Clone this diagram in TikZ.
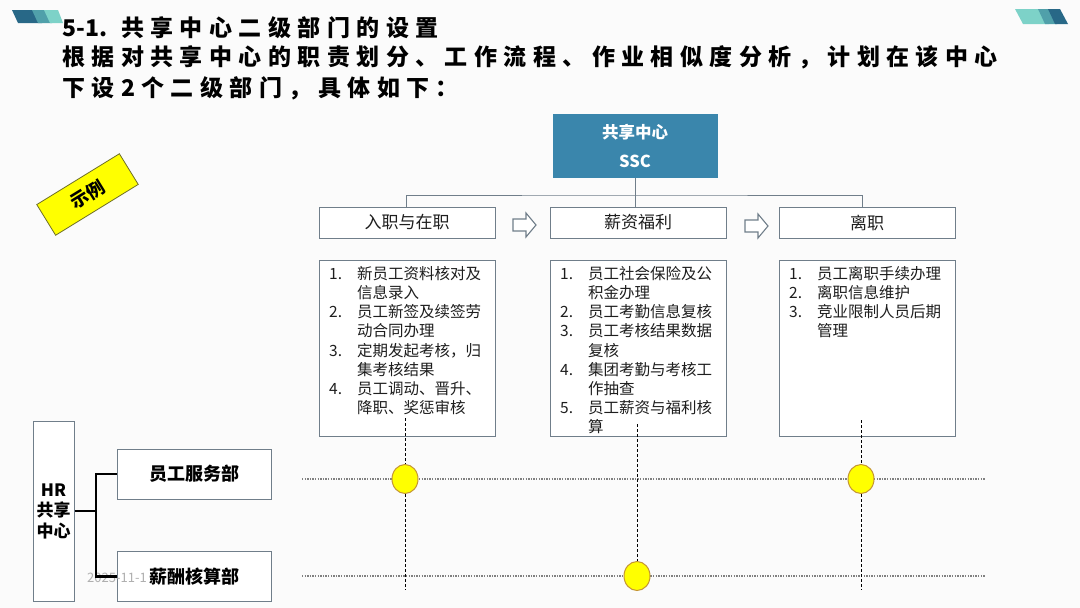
\documentclass[tikz,border=0pt]{standalone}
\usepackage{fontspec}
\setmainfont{Noto Sans CJK SC}
\newfontfamily\titlefont[LetterSpace=28]{Noto Sans CJK SC}
\newfontfamily\titleplain{Noto Sans CJK SC}
\usetikzlibrary{shapes.geometric}
\definecolor{bgc}{RGB}{251,251,251}
\definecolor{boxgray}{RGB}{112,126,138}
\definecolor{sscblue}{RGB}{58,134,172}
\definecolor{txt}{RGB}{30,30,30}
\definecolor{ylw}{RGB}{255,255,0}
\definecolor{ylwborder}{RGB}{196,148,52}
\definecolor{darkteal}{RGB}{40,104,135}
\definecolor{midteal}{RGB}{80,160,170}
\definecolor{lightteal}{RGB}{125,210,200}
\newcommand{\lsitem}[2]{\makebox[28pt][l]{#1}#2}
\newcommand{\lscont}[1]{\hspace*{28pt}#1}
\begin{document}
\begin{tikzpicture}[x=1pt,y=-1pt,
  catbox/.style={draw=boxgray, fill=white, line width=1pt, minimum width=176pt, minimum height=31pt, inner sep=0pt, text=txt, font=\fontsize{17}{20}\selectfont},
  listbox/.style={draw=boxgray, fill=white, line width=1pt, minimum width=176pt, minimum height=176pt, inner sep=0pt},
  listtxt/.style={anchor=north west, align=left, inner sep=0pt, text=txt, font=\fontsize{15.5}{19.2}\selectfont},
  deptbox/.style={draw=boxgray, fill=white, line width=1pt, minimum width=154pt, minimum height=50pt, inner sep=0pt, text=black, font=\fontsize{18}{21}\selectfont\bfseries},
  conn/.style={draw=boxgray, line width=0.9pt},
  hrconn/.style={draw=black, line width=2.4pt},
  hollowarrow/.style={draw=boxgray, fill=white, line width=1.1pt, line join=miter},
  vdash/.style={draw=black, line width=0.6pt, dash pattern=on 3pt off 2pt},
  hdot/.style={draw=gray, line width=1.6pt, dash pattern=on 1.4pt off 1.2pt},
  dot/.style={ellipse, draw=ylwborder, fill=ylw, line width=1pt, minimum width=26pt, minimum height=29pt, inner sep=0pt},
  titleline/.style={anchor=west, inner sep=0pt, text=black, font=\fontsize{23}{27}\titlefont\bfseries}
]
\useasboundingbox (0,0) rectangle (1080,608);
\fill[bgc] (0,0) rectangle (1080,608);

% decorations
\fill[darkteal] (12,10) -- (36,10) -- (42,23) -- (18,23) -- cycle;
\fill[midteal] (32,10) -- (46,10) -- (52,23) -- (38,23) -- cycle;
\fill[lightteal] (44,10) -- (58,10) -- (63,23) -- (50,23) -- cycle;
\fill[lightteal] (1015,9) -- (1042,9) -- (1049,24) -- (1023,24) -- cycle;
\fill[midteal] (1038,9) -- (1050,9) -- (1057,24) -- (1045,24) -- cycle;
\fill[darkteal] (1048,9) -- (1060,9) -- (1068,24) -- (1055,24) -- cycle;

% title
\node[titleline] (t1) at (62,28) {{\titleplain\bfseries 5-1.}\hspace{14pt}共享中心二级部门的设置};
\node[titleline] (t2) at (62,57) {根据对共享中心的职责划分、工作流程、作业相似度分析，计划在该中心};
\node[titleline] (t3) at (62,88) {下设2个二级部门，具体如下：};

% example tag
\node[draw={rgb,255:red,110;green,110;blue,40}, fill=ylw, line width=0.8pt, rotate=31.6, minimum width=97pt, minimum height=36pt, inner sep=0pt, font=\fontsize{18}{20}\selectfont\bfseries] (ex) at (87.5,194.5) {示例};

% SSC
\node[fill=sscblue, draw=sscblue, minimum width=164pt, minimum height=63pt, inner sep=0pt, align=center, text=white, font=\fontsize{16.5}{29}\selectfont\bfseries] (ssc) at (635,146) {共享中心\\SSC};

% category boxes
\node[catbox] (c1) at (407,222.5) {入职与在职};
\node[catbox] (c2) at (638,222.5) {薪资福利};
\node[catbox] (c3) at (867,222.5) {离职};

\coordinate (bus) at (635,195);
\draw[conn] (ssc.south) -- (ssc.south |- c2.north);
\draw[conn] (c1.north -| 406,0) |- (bus) -| (c3.north -| 862,0);

% hollow arrows
\draw[hollowarrow] (513,219) -- (526,219) -- (526,213) -- (536,225) -- (526,237) -- (526,231) -- (513,231) -- cycle;
\draw[hollowarrow] (745,220) -- (758,220) -- (758,214) -- (768,226) -- (758,238) -- (758,232) -- (745,232) -- cycle;

% list boxes
\node[listbox] (l1) at (407,348) {};
\node[listbox] (l2) at (638,348) {};
\node[listbox] (l3) at (867,348) {};

\node[listtxt] (lt1) at (329,266) {\lsitem{1.}{新员工资料核对及}\\\lscont{信息录入}\\\lsitem{2.}{员工新签及续签劳}\\\lscont{动合同办理}\\\lsitem{3.}{定期发起考核，归}\\\lscont{集考核结果}\\\lsitem{4.}{员工调动、晋升、}\\\lscont{降职、奖惩审核}};
\node[listtxt] (lt2) at (560,266) {\lsitem{1.}{员工社会保险及公}\\\lscont{积金办理}\\\lsitem{2.}{员工考勤信息复核}\\\lsitem{3.}{员工考核结果数据}\\\lscont{复核}\\\lsitem{4.}{集团考勤与考核工}\\\lscont{作抽查}\\\lsitem{5.}{员工薪资与福利核}\\\lscont{算}};
\node[listtxt] (lt3) at (789,266) {\lsitem{1.}{员工离职手续办理}\\\lsitem{2.}{离职信息维护}\\\lsitem{3.}{竞业限制人员后期}\\\lscont{管理}};

% HR side
\node[draw=boxgray, fill=white, line width=1pt, minimum width=41pt, minimum height=180pt, inner sep=0pt, align=center, font=\fontsize{17}{20.5}\selectfont\bfseries] (hr) at (53.5,511) {HR\\共享\\中心};
\node[deptbox] (d1) at (194,474) {员工服务部};
\node[deptbox] (d2) at (194,576.5) {};
\node[anchor=west, inner sep=0pt, text={rgb,255:red,175;green,175;blue,175}, font=\fontsize{13}{15}\selectfont] (wm) at (87,578) {2025-11-1};
\node[inner sep=0pt, text=black, font=\fontsize{18}{21}\selectfont\bfseries] (d2t) at (d2) {薪酬核算部};
\coordinate (hj) at (96,511);
\draw[hrconn] (hr.east |- hj) -- (hj);
\draw[hrconn] (d1.west) -| (hj) |- (d2.west);

% grid lines
\coordinate (r1l) at (302,479); \coordinate (r1r) at (985,479);
\coordinate (r2l) at (302,576); \coordinate (r2r) at (985,576);
\draw[hdot] (r1l) -- (r1r);
\draw[hdot] (r2l) -- (r2r);
\coordinate (v1t) at (405,418); \coordinate (v1b) at (405,590);
\coordinate (v2t) at (637,424);
\coordinate (v3t) at (861,420); \coordinate (v3b) at (861,590);

\node[dot] (p1) at (405,479) {};
\node[dot] (p2) at (861,479) {};
\node[dot] (p3) at (637,576) {};
\draw[vdash] (v1t) -- (p1.north);
\draw[vdash] (p1.south) -- (v1b);
\draw[vdash] (v2t) -- (p3.north);
\draw[vdash] (v3t) -- (p2.north);
\draw[vdash] (p2.south) -- (v3b);
\end{tikzpicture}
\end{document}
